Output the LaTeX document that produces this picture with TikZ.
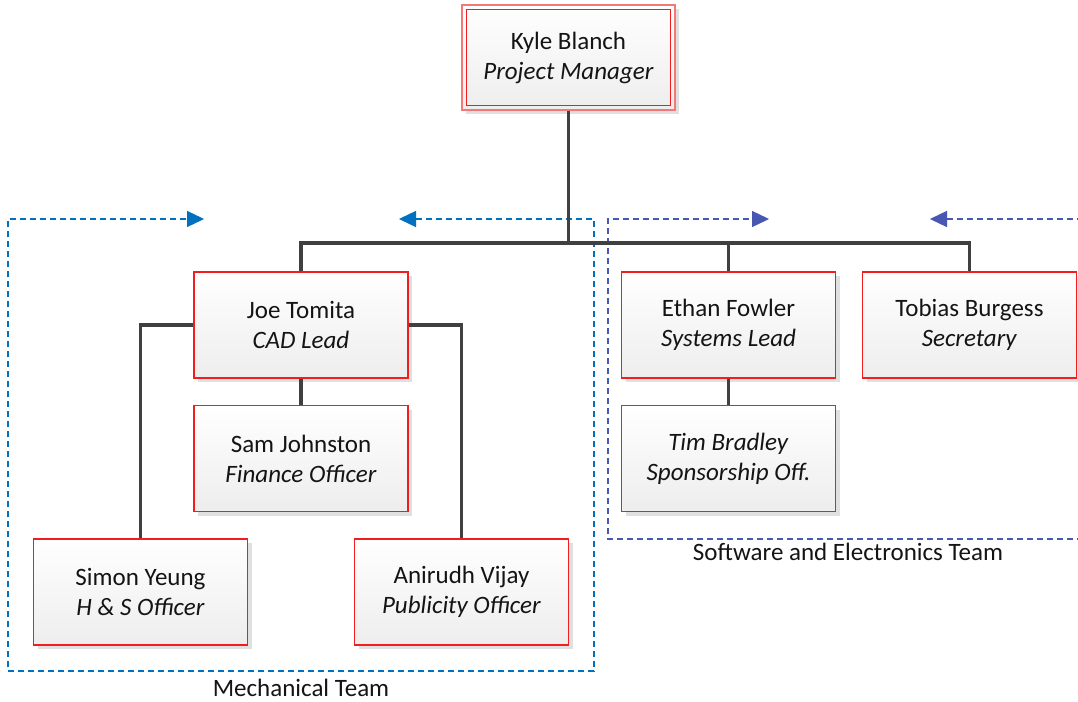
\documentclass[tikz,border=0pt]{standalone}
\usepackage{fontspec}
\setmainfont{Carlito}
\usetikzlibrary{arrows.meta,shadows}
\definecolor{mechblue}{RGB}{0,112,192}
\definecolor{swblue}{RGB}{72,88,178}
\definecolor{linegray}{RGB}{64,64,64}
\definecolor{boxred}{RGB}{240,30,30}
\definecolor{framepink}{RGB}{245,120,120}
\definecolor{shadegray}{RGB}{224,224,224}
\definecolor{ghost}{RGB}{228,228,228}
\begin{document}
\begin{tikzpicture}[x=1pt,y=-1pt,
  every node/.style={font=\fontsize{25}{30}\selectfont, text=black!92},
  person/.style={draw=boxred, line width=1.1pt, minimum width=214pt, minimum height=106pt,
    inner sep=0pt, align=center, top color=white, bottom color=black!7,
    drop shadow={shadow xshift=4pt, shadow yshift=-4pt, fill=shadegray, opacity=1}},
  conn/.style={draw=linegray, line width=3.5pt},
  grp/.style={line width=1.3pt, dash pattern=on 6pt off 4pt,
    {Triangle[length=17pt,width=16pt]}-{Triangle[length=17pt,width=16pt]}},
  grplabel/.style={font=\fontsize{25}{30}\selectfont}]
\useasboundingbox (0,0) rectangle (1078,701);

% team frames (shadow first, then the dashed outline)
\coordinate (mA) at (399,219);  \coordinate (mB) at (594,219);
\coordinate (mC) at (594,671);  \coordinate (mD) at (8,671);
\coordinate (mE) at (8,219);    \coordinate (mF) at (204,219);
\coordinate (sA) at (930,219);  \coordinate (sB) at (1090,219);
\coordinate (sC) at (1090,539); \coordinate (sD) at (608,539);
\coordinate (sE) at (608,219);  \coordinate (sF) at (769,219);

\begin{scope}[xshift=4pt,yshift=-4pt]
  \draw[grp, draw=ghost] (mA) -- (mB) -- (mC) -- (mD) -- (mE) -- (mF);
  \draw[grp, draw=ghost] (sA) -- (sB) -- (sC) -- (sD) -- (sE) -- (sF);
\end{scope}
\draw[grp, draw=mechblue] (mA) -- (mB) -- (mC) -- (mD) -- (mE) -- (mF);
\draw[grp, draw=swblue] (sA) -- (sB) -- (sC) -- (sD) -- (sE) -- (sF);

\node[grplabel] (mechlabel) at (301,688) {Mechanical Team};
\node[grplabel] (swlabel) at (848,552) {Software and Electronics Team};

% people
\node[person, draw=framepink, minimum width=213pt, minimum height=105pt] (kyle) at (568.5,57.5)
  {Kyle Blanch\\\textit{Project Manager}};
\draw[boxred, line width=1.1pt] ([xshift=5pt,yshift=-5pt]kyle.north west)
  rectangle ([xshift=-5pt,yshift=5pt]kyle.south east);

\node[person] (joe) at (301,325) {Joe Tomita\\\textit{CAD Lead}};
\node[person] (sam) at (301,458.5) {Sam Johnston\\\textit{Finance Officer}};
\node[person] (simon) at (140.5,592) {Simon Yeung\\\textit{H \& S Officer}};
\node[person] (anirudh) at (461.5,592) {Anirudh Vijay\\\textit{Publicity Officer}};
\node[person] (ethan) at (728.5,325) {Ethan Fowler\\\textit{Systems Lead}};
\node[person] (tobias) at (969.5,325) {Tobias Burgess\\\textit{Secretary}};
\node[person] (tim) at (728.5,458.5) {\textit{Tim Bradley}\\\textit{Sponsorship Off.}};

% reporting lines
\coordinate (bus) at (0,243);
\draw[conn] (kyle.south) -- (kyle.south |- bus);
\draw[conn] (joe.north) -- (joe.north |- bus) -- (tobias.north |- bus) -- (tobias.north);
\draw[conn] (ethan.north) -- (ethan.north |- bus);
\draw[conn] (joe.west) -| (simon.north);
\draw[conn] (joe.east) -| (anirudh.north);
\draw[conn] (joe.south) -- (sam.north);
\draw[conn] (ethan.south) -- (tim.north);
\end{tikzpicture}
\end{document}
